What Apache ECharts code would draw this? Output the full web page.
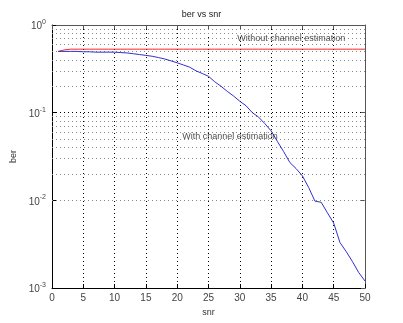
<!DOCTYPE html>
<html>
<head>
<meta charset="utf-8">
<script src="https://cdn.jsdelivr.net/npm/echarts@6/dist/echarts.min.js"></script>
<style>
  html, body { margin: 0; padding: 0; background: #fff; }
  #main { width: 403px; height: 323px; }
</style>
</head>
<body>
<div id="main"></div>
<script>
// snr values 1..50
const snr = [1, 2, 3, 4, 5, 6, 7, 8, 9, 10, 11, 12, 13, 14, 15, 16, 17, 18, 19, 20,
  21, 22, 23, 24, 25, 26, 27, 28, 29, 30, 31, 32, 33, 34, 35, 36, 37, 38, 39, 40,
  41, 42, 43, 44, 45, 46, 47, 48, 49, 50]
// ber with channel estimation (blue)
const berWith = [0.50, 0.50, 0.50, 0.50, 0.495, 0.495, 0.49, 0.49, 0.49, 0.49,
  0.485, 0.48, 0.47, 0.46, 0.45, 0.44, 0.425, 0.41, 0.39, 0.37,
  0.35, 0.33, 0.30, 0.28, 0.26, 0.225, 0.20, 0.175, 0.155, 0.135,
  0.12, 0.10, 0.089, 0.075, 0.062, 0.047, 0.036, 0.027, 0.023, 0.019,
  0.014, 0.0098, 0.0095, 0.0072, 0.0055, 0.0033, 0.0026, 0.0020, 0.0015, 0.0012]
// ber without channel estimation (red)
const berWithout = [0.50, 0.52, 0.53, 0.53, 0.53, 0.53, 0.53, 0.53, 0.53, 0.53,
  0.53, 0.53, 0.53, 0.53, 0.53, 0.53, 0.53, 0.53, 0.53, 0.53,
  0.53, 0.53, 0.53, 0.53, 0.53, 0.53, 0.53, 0.53, 0.53, 0.53,
  0.53, 0.53, 0.53, 0.53, 0.53, 0.53, 0.53, 0.53, 0.53, 0.53,
  0.53, 0.53, 0.53, 0.53, 0.53, 0.53, 0.53, 0.53, 0.53, 0.53]
// minor log grid lines (2..9 x each decade)
const minorGrid = [0.002, 0.003, 0.004, 0.005, 0.006, 0.007, 0.008, 0.009,
  0.02, 0.03, 0.04, 0.05, 0.06, 0.07, 0.08, 0.09,
  0.2, 0.3, 0.4, 0.5, 0.6, 0.7, 0.8, 0.9]
// text annotations [snr, ber, text]
const notes = [
  [29.6, 0.71, 'Without channel estimation'],
  [20.8, 0.0535, 'With channel estimation'],
]

const font = 'Liberation Sans, Arial, sans-serif'
const myChart = echarts.init(document.getElementById('main'))

const option = {
  backgroundColor: '#fff',
  animation: false,
  title: {
    text: 'ber vs snr',
    left: 'center',
    top: 5,
    textStyle: { fontSize: 9, fontWeight: 'normal', color: '#222', fontFamily: font },
  },
  grid: { left: 52, right: 38, top: 25, bottom: 35 },
  xAxis: [
    {
      type: 'value',
      min: 0,
      max: 50,
      interval: 5,
      name: 'snr',
      nameLocation: 'middle',
      nameGap: 17,
      nameTextStyle: { fontSize: 9, color: '#333', fontFamily: font },
      axisLine: { show: true, onZero: false, lineStyle: { color: '#000', width: 1 } },
      axisTick: { show: true, inside: true, length: 4, lineStyle: { color: '#000' } },
      axisLabel: { fontSize: 10, color: '#444', margin: 5, fontFamily: font },
      splitLine: { show: true, lineStyle: { type: [1, 3], color: '#000', width: 1 } },
    },
    {
      type: 'value',
      position: 'top',
      min: 0,
      max: 50,
      interval: 5,
      axisLine: { show: true, onZero: false, lineStyle: { color: '#555' } },
      axisTick: { show: true, inside: true, length: 4, lineStyle: { color: '#555' } },
      axisLabel: { show: false },
      splitLine: { show: false },
    },
  ],
  yAxis: [
    {
      type: 'log',
      logBase: 10,
      min: 0.001,
      max: 1,
      name: 'ber',
      nameLocation: 'middle',
      nameGap: 30,
      nameRotate: 90,
      nameTextStyle: { fontSize: 9, color: '#333', fontFamily: font },
      axisLine: { show: true, onZero: false, lineStyle: { color: '#000', width: 1 } },
      axisTick: { show: true, inside: true, length: 4, lineStyle: { color: '#000' } },
      axisLabel: {
        margin: 6,
        color: '#444',
        fontFamily: font,
        formatter: function (v) {
          return '{b|10}{s|' + Math.round(Math.log10(v)) + '}'
        },
        rich: {
          b: { fontSize: 10, color: '#444', fontFamily: font, verticalAlign: 'bottom' },
          s: { fontSize: 7, color: '#444', fontFamily: font, verticalAlign: 'top', padding: [0, 0, 6, 0] },
        },
      },
      splitLine: { show: true, lineStyle: { type: [1, 3], color: '#000', width: 1 } },
    },
    {
      type: 'log',
      logBase: 10,
      min: 0.001,
      max: 1,
      position: 'right',
      axisLine: { show: true, onZero: false, lineStyle: { color: '#555' } },
      axisTick: { show: true, inside: true, length: 4, lineStyle: { color: '#555' } },
      axisLabel: { show: false },
      splitLine: { show: false },
    },
  ],
  series: [
    {
      name: 'Without channel estimation',
      type: 'line',
      data: snr.map((x, i) => [x, berWithout[i]]),
      showSymbol: false,
      symbol: 'none',
      lineStyle: { color: '#ff2020', width: 1 },
      z: 3,
      markLine: {
        silent: true,
        symbol: 'none',
        label: { show: false },
        lineStyle: { type: [1, 3], color: '#888', width: 1 },
        data: minorGrid.map((v) => ({ yAxis: v })),
        z: 1,
      },
    },
    {
      name: 'With channel estimation',
      type: 'line',
      data: snr.map((x, i) => [x, berWith[i]]),
      showSymbol: false,
      symbol: 'none',
      lineStyle: { color: '#3030d0', width: 1 },
      z: 4,
    },
    {
      type: 'scatter',
      data: notes.map((n) => ({ value: [n[0], n[1]], name: n[2] })),
      symbolSize: 0,
      silent: true,
      label: {
        show: true,
        position: 'right',
        distance: 0,
        formatter: '{b}',
        fontSize: 9,
        color: '#222',
        fontFamily: font,
      },
      z: 5,
    },
  ],
}

option && myChart.setOption(option)
window.addEventListener('resize', function () {
  myChart.resize()
})
</script>
</body>
</html>
